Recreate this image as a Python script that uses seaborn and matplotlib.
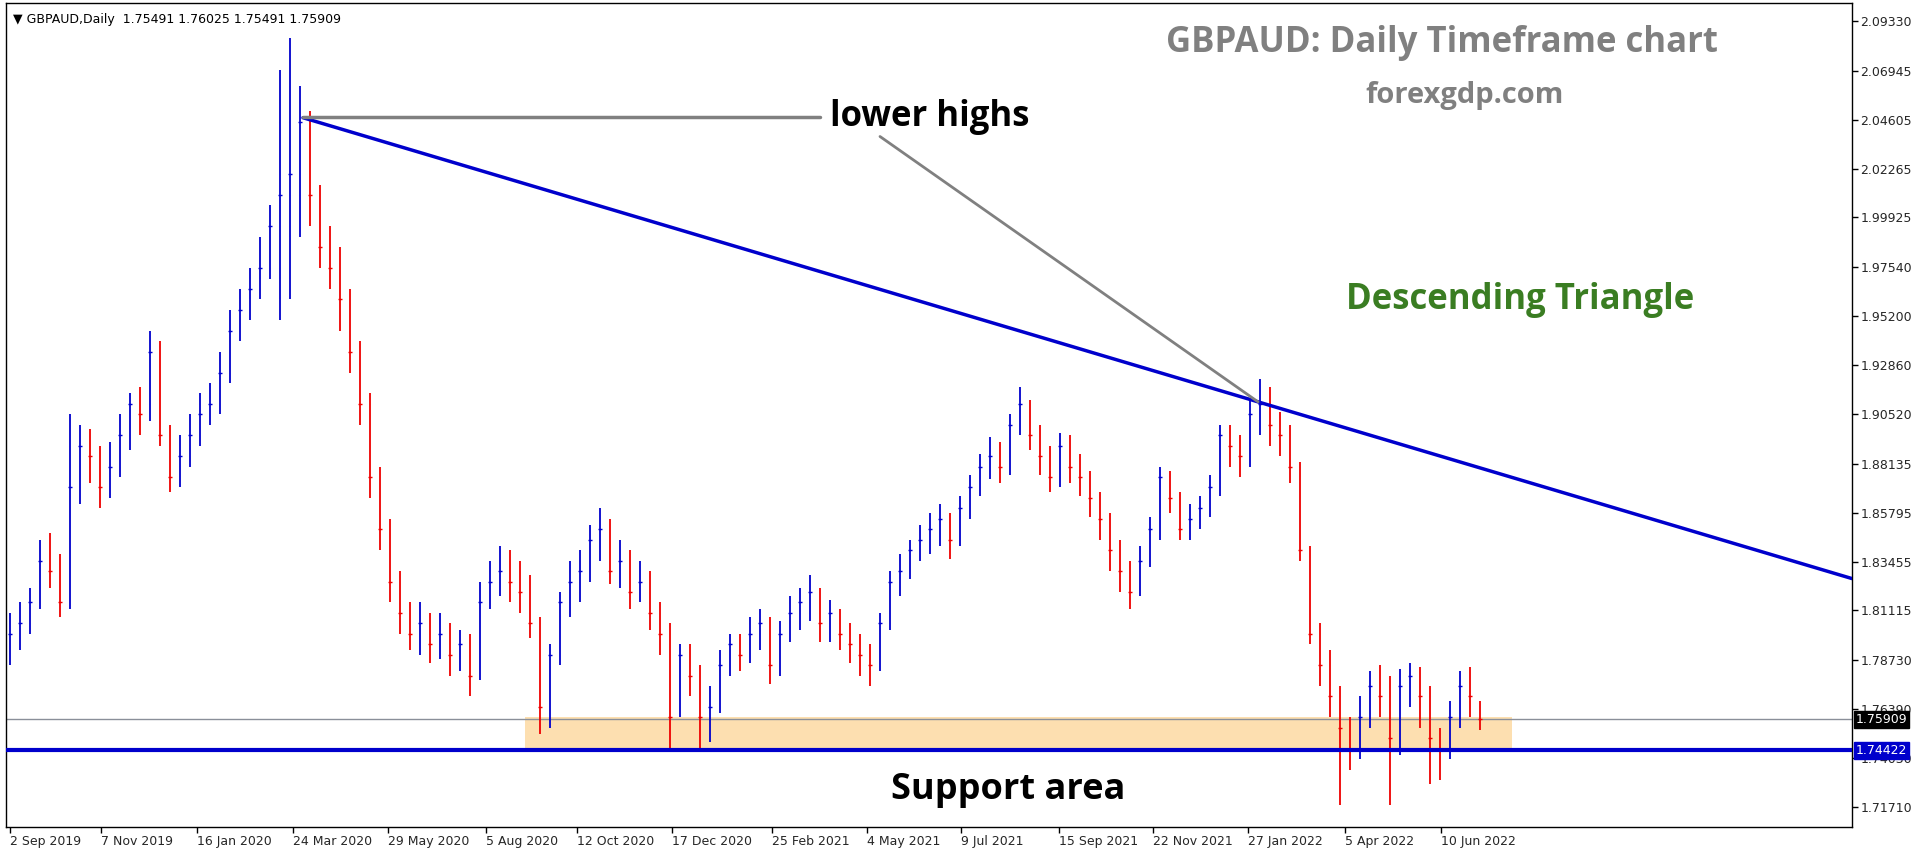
import matplotlib
matplotlib.use("Agg")
import matplotlib.pyplot as plt
import seaborn as sns
import numpy as np
import pandas as pd

closes = [1.800,1.805,1.815,1.835,1.830,1.815,1.870,1.890,1.885,1.870,
          1.880,1.895,1.910,1.905,1.935,1.895,1.875,1.885,1.895,1.905,
          1.910,1.925,1.945,1.955,1.965,1.975,1.995,2.010,2.020,2.045,
          2.010,1.985,1.975,1.960,1.935,1.910,1.875,1.850,1.825,1.810,
          1.800,1.805,1.795,1.800,1.790,1.795,1.780,1.815,1.825,1.830,
          1.825,1.820,1.805,1.765,1.790,1.815,1.825,1.830,1.845,1.850,
          1.830,1.835,1.820,1.825,1.810,1.800,1.760,1.790,1.780,1.760,
          1.765,1.785,1.795,1.790,1.800,1.805,1.785,1.800,1.810,1.815,
          1.820,1.805,1.810,1.800,1.795,1.790,1.785,1.805,1.825,1.830,
          1.840,1.845,1.850,1.855,1.845,1.860,1.870,1.880,1.885,1.880,
          1.900,1.910,1.895,1.885,1.875,1.890,1.880,1.875,1.865,1.855,
          1.840,1.830,1.820,1.835,1.850,1.875,1.865,1.850,1.855,1.860,
          1.870,1.895,1.890,1.885,1.905,1.910,1.900,1.895,1.880,1.840,
          1.800,1.785,1.770,1.755,1.745,1.760,1.775,1.770,1.750,1.775,
          1.780,1.770,1.750,1.745,1.760,1.775,1.770,1.759]
highs = [1.810,1.815,1.822,1.845,1.848,1.838,1.905,1.900,1.898,1.890,
         1.892,1.905,1.915,1.918,1.945,1.940,1.900,1.895,1.905,1.915,
         1.920,1.935,1.955,1.965,1.975,1.990,2.005,2.070,2.085,2.062,
         2.050,2.015,1.995,1.985,1.965,1.940,1.915,1.880,1.855,1.830,
         1.815,1.815,1.810,1.810,1.805,1.802,1.800,1.825,1.835,1.842,
         1.840,1.835,1.828,1.808,1.795,1.820,1.835,1.840,1.852,1.860,
         1.855,1.845,1.840,1.835,1.830,1.815,1.805,1.795,1.795,1.785,
         1.775,1.792,1.800,1.800,1.808,1.812,1.808,1.806,1.818,1.822,
         1.828,1.822,1.816,1.812,1.805,1.800,1.795,1.810,1.830,1.838,
         1.845,1.852,1.858,1.862,1.858,1.866,1.876,1.886,1.894,1.892,
         1.905,1.918,1.912,1.900,1.890,1.896,1.895,1.886,1.878,1.868,
         1.858,1.845,1.835,1.842,1.856,1.880,1.878,1.868,1.862,1.866,
         1.876,1.900,1.900,1.895,1.912,1.922,1.918,1.906,1.900,1.882,
         1.842,1.805,1.792,1.775,1.760,1.770,1.782,1.785,1.780,1.783,
         1.786,1.784,1.775,1.755,1.768,1.782,1.784,1.768]
lows = [1.785,1.792,1.800,1.812,1.822,1.808,1.812,1.862,1.872,1.860,
        1.865,1.875,1.888,1.895,1.902,1.890,1.868,1.870,1.880,1.890,
        1.900,1.905,1.920,1.940,1.950,1.960,1.970,1.950,1.960,1.990,
        1.995,1.975,1.965,1.945,1.925,1.900,1.865,1.840,1.815,1.800,
        1.792,1.790,1.786,1.788,1.780,1.782,1.770,1.778,1.812,1.818,
        1.815,1.810,1.798,1.752,1.755,1.785,1.808,1.815,1.825,1.835,
        1.824,1.822,1.812,1.815,1.802,1.790,1.745,1.760,1.770,1.745,
        1.748,1.762,1.780,1.782,1.786,1.792,1.776,1.780,1.796,1.802,
        1.806,1.796,1.796,1.792,1.786,1.780,1.775,1.782,1.802,1.818,
        1.826,1.835,1.838,1.842,1.836,1.842,1.855,1.866,1.874,1.872,
        1.876,1.895,1.888,1.876,1.868,1.870,1.872,1.866,1.856,1.845,
        1.830,1.820,1.812,1.818,1.832,1.845,1.858,1.845,1.845,1.850,
        1.856,1.866,1.880,1.875,1.880,1.895,1.890,1.885,1.872,1.835,
        1.795,1.775,1.760,1.718,1.735,1.740,1.755,1.760,1.718,1.742,
        1.765,1.755,1.728,1.730,1.740,1.755,1.760,1.754]
first_open = 1.795

date_labels = ["2 Sep 2019","7 Nov 2019","16 Jan 2020","24 Mar 2020","29 May 2020",
               "5 Aug 2020","12 Oct 2020","17 Dec 2020","25 Feb 2021","4 May 2021",
               "9 Jul 2021","15 Sep 2021","22 Nov 2021","27 Jan 2022","5 Apr 2022","10 Jun 2022"]
date_pos = [0, 9.1, 18.7, 28.3, 37.8, 47.6, 56.7, 66.2, 76.2, 85.7, 95.1, 104.9, 114.3, 123.8, 133.5, 143.1]
price_ticks = [2.09330,2.06945,2.04605,2.02265,1.99925,1.97540,1.95200,1.92860,1.90520,
               1.88135,1.85795,1.83455,1.81115,1.78730,1.76390,1.74030,1.71710]

support_level = 1.74422
zone_top = 1.7600
last_price = 1.75909
trend_p1 = (29.3, 2.047)
trend_p2 = (124.8, 1.911)
zone_x = (51.5, 150.2)

sns.set_theme(style="white")
plt.rcParams['font.family'] = ['DejaVu Sans']

df = pd.DataFrame({"close": closes, "high": highs, "low": lows})
df["open"] = [first_open] + closes[:-1]
df["i"] = np.arange(len(df))
df["dir"] = np.where(df["close"] >= df["open"], "up", "down")

fig = plt.figure(figsize=(19.16, 8.5), dpi=100)
ax = fig.add_axes([6/1916, 23/850, 1846/1916, 824/850])
xmin, xmax = -0.4, 184.2
ymin, ymax = 1.7075, 2.1019
ax.set_xlim(xmin, xmax)
ax.set_ylim(ymin, ymax)

ax.fill_between(zone_x, support_level, zone_top, color="#FDDFB0", lw=0, zorder=1)
ax.axhline(last_price, color="#8a8f99", lw=1, zorder=2)
ax.axhline(support_level, color="#0000CC", lw=3, zorder=4)

palette = {"up": "#0000CC", "down": "#EE0000"}
for d, g in df.groupby("dir"):
    ax.vlines(g["i"], g["low"], g["high"], color=palette[d], lw=1.3, zorder=3)
sns.scatterplot(data=df, x="i", y="close", hue="dir", palette=palette, marker="_",
                s=8, linewidth=1.0, legend=False, ax=ax, zorder=3)

slope = (trend_p2[1] - trend_p1[1]) / (trend_p2[0] - trend_p1[0])
ax.plot([trend_p1[0], xmax], [trend_p1[1], trend_p1[1] + slope * (xmax - trend_p1[0])],
        color="#0000CC", lw=2.5, zorder=5)

ax.plot([trend_p1[0], 81.0], [2.0475, 2.0475], color="#808080", lw=2.5, zorder=5)
ax.plot([87.0, trend_p2[0]], [2.038, trend_p2[1]], color="#808080", lw=2, zorder=5)

ax.text(82.0, 2.0475, "lower highs", fontsize=25, fontweight="bold", color="black",
        va="center", ha="left", family=["Open Sans", "DejaVu Sans"], zorder=6)
ax.text(0.778, 0.951, "GBPAUD: Daily Timeframe chart", transform=ax.transAxes, fontsize=25,
        fontweight="bold", color="#808080", ha="center", va="center", family=["Open Sans"])
ax.text(0.79, 0.888, "forexgdp.com", transform=ax.transAxes, fontsize=21,
        fontweight="bold", color="#808080", ha="center", va="center", family=["Open Sans"])
ax.text(0.82, 0.64, "Descending Triangle", transform=ax.transAxes, fontsize=25,
        fontweight="bold", color="#3A7D22", ha="center", va="center", family=["Open Sans"])
ax.text(0.543, 0.045, "Support area", transform=ax.transAxes, fontsize=26,
        fontweight="bold", color="black", ha="center", va="center", family=["Open Sans"])
ax.text(0.004, 0.988, "\u25BC GBPAUD,Daily  1.75491 1.76025 1.75491 1.75909",
        transform=ax.transAxes, fontsize=9, color="black", ha="left", va="top")

ax.set_xticks(date_pos)
ax.set_xticklabels(date_labels, ha="left", fontsize=9)
ax.yaxis.tick_right()
ax.set_yticks(price_ticks)
ax.set_yticklabels([f"{p:.5f}" for p in price_ticks], fontsize=9)
ax.tick_params(axis="both", length=4, width=1, color="black", direction="out",
               bottom=True, right=True, pad=2)
ax.set_xlabel("")
ax.set_ylabel("")
for s in ax.spines.values():
    s.set_color("black")
    s.set_linewidth(1)

ax.text(1.002, last_price, "1.75909", transform=ax.get_yaxis_transform(), fontsize=9,
        color="white", va="center", ha="left",
        bbox=dict(boxstyle="square,pad=0.15", fc="black", ec="black"), zorder=10, clip_on=False)
ax.text(1.002, support_level, "1.74422", transform=ax.get_yaxis_transform(), fontsize=9,
        color="white", va="center", ha="left",
        bbox=dict(boxstyle="square,pad=0.15", fc="#0000CC", ec="#0000CC"), zorder=10, clip_on=False)

fig.savefig("out.png", dpi=100, facecolor="white")
